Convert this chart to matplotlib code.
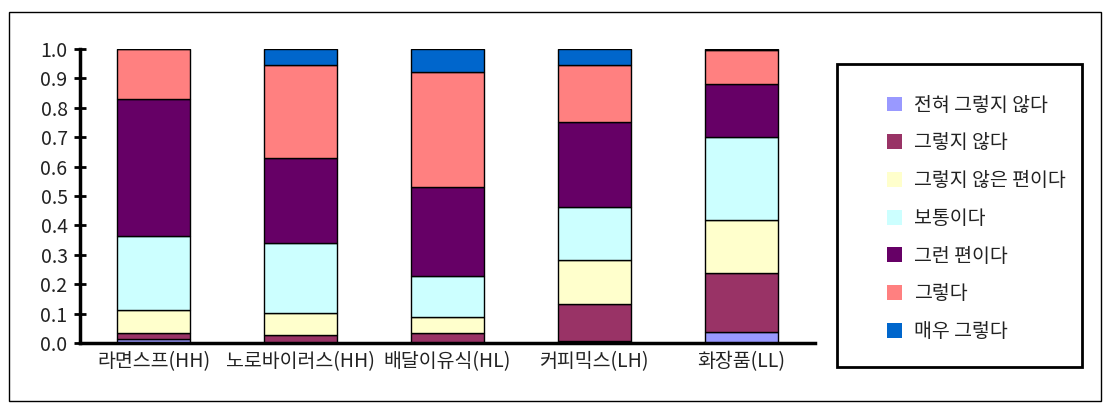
import numpy as np
import matplotlib.pyplot as plt
from matplotlib.patches import Rectangle, Patch

plt.rcParams['font.family'] = ['Noto Sans CJK KR', 'DejaVu Sans']

categories = ['라면스프(HH)', '노로바이러스(HH)', '배달이유식(HL)', '커피믹스(LH)', '화장품(LL)']
labels = ['전혀 그렇지 않다', '그렇지 않다', '그렇지 않은 편이다', '보통이다',
          '그런 편이다', '그렇다', '매우 그렇다']
colors = ['#9999FF', '#993366', '#FFFFCC', '#CCFFFF', '#660066', '#FF8080', '#0066CC']

# share of answers per category, bottom segment first
not_at_all = [0.014, 0.000, 0.000, 0.007, 0.037]
disagree = [0.020, 0.028, 0.033, 0.127, 0.201]
somewhat_disagree = [0.079, 0.075, 0.055, 0.149, 0.182]
neutral = [0.250, 0.236, 0.139, 0.181, 0.280]
somewhat_agree = [0.468, 0.291, 0.304, 0.287, 0.182]
agree = [0.169, 0.316, 0.390, 0.195, 0.113]
strongly_agree = [0.000, 0.054, 0.079, 0.054, 0.005]

series = [not_at_all, disagree, somewhat_disagree, neutral,
          somewhat_agree, agree, strongly_agree]

W, H = 1113, 411
fig = plt.figure(figsize=(W / 100, H / 100), dpi=100)
ax = fig.add_axes([80 / W, (H - 343) / H, 735 / W, 294 / H])

x = np.arange(len(categories))
bottom = np.zeros(len(categories))
for vals, lab, col in zip(series, labels, colors):
    vals = np.array(vals)
    ax.bar(x, vals, width=0.5, bottom=bottom, color=col, edgecolor='black',
           linewidth=1, label=lab)
    bottom += vals

ax.set_xlim(-0.5, 4.5)
ax.set_ylim(0, 1.0)
ticks = np.arange(0, 1.01, 0.1)
ax.set_yticks(ticks)
ax.set_yticklabels([f'{v:.1f}' for v in ticks], fontsize=14, color='#222222')
ax.set_xticks(x)
ax.set_xticklabels(categories, fontsize=14, color='#222222')
ax.tick_params(axis='y', direction='inout', length=8, width=2, pad=5)
ax.tick_params(axis='x', length=0, pad=6)
for s in ['top', 'right']:
    ax.spines[s].set_visible(False)
for s in ['left', 'bottom']:
    ax.spines[s].set_linewidth(2.5)

# outer chart border and legend frame
fig.patches.append(Rectangle((9 / W, (H - 401) / H), 1092 / W, 389 / H,
                             transform=fig.transFigure, fill=False,
                             edgecolor='black', linewidth=1))
fig.patches.append(Rectangle((837 / W, (H - 367) / H), 245 / W, 303 / H,
                             transform=fig.transFigure, fill=False,
                             edgecolor='black', linewidth=2))

handles = [Patch(facecolor=c, edgecolor='none') for c in colors]
fig.legend(handles, labels, loc='upper left', bbox_to_anchor=(877 / W, (H - 85) / H),
           frameon=False, fontsize=14, labelspacing=0.86, handlelength=0.8,
           handleheight=0.8, handletextpad=0.6, borderpad=0, labelcolor='#222222')

fig.savefig('out.png', dpi=100)
